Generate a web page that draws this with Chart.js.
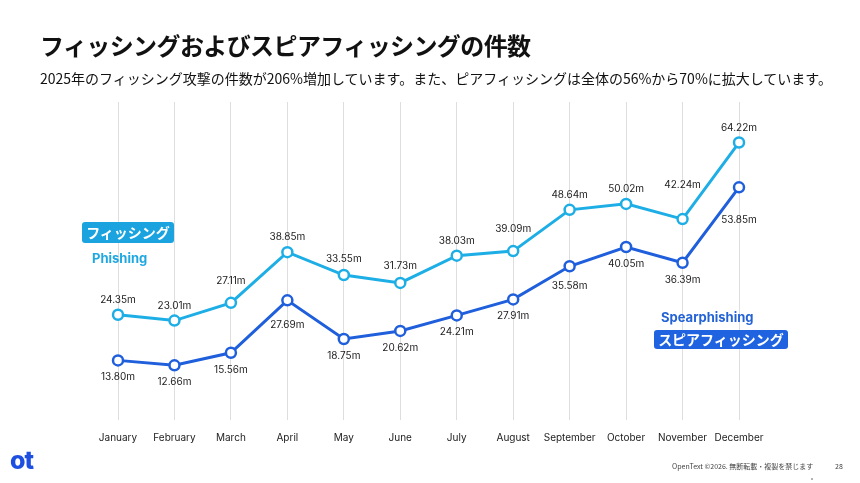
<!DOCTYPE html>
<html>
<head>
<meta charset="utf-8">
<script src="https://cdn.jsdelivr.net/npm/chart.js@4/dist/chart.umd.min.js"></script>
<style>
  html, body { margin: 0; padding: 0; background: #fff; }
  #wrap { position: relative; width: 860px; height: 483px; overflow: hidden; font-family: "Noto Sans CJK JP", "Noto Sans", sans-serif; }
  #wrap canvas { position: absolute; left: 0; top: 0; }
  .txt { position: absolute; white-space: nowrap; }
  #title { left: 40px; top: 27px; font-size: 24px; font-weight: 700; color: #111; letter-spacing: -0.6px; }
  #sub { left: 40px; top: 68px; font-size: 14px; color: #111; }
  .tag { position: absolute; color: #fff; font-weight: 700; font-size: 14px; border-radius: 3px; text-align: center; line-height: 20px; }
  #tagP { left: 82px; top: 222px; width: 92px; height: 21px; background: #1aa3df; }
  #tagS { left: 654px; top: 330px; width: 134px; height: 19px; line-height: 19px; background: #1f63e0; }
  .name { position: absolute; font-family: Inter, "Noto Sans", sans-serif; font-weight: 700; font-size: 13px; }
  #nameP { left: 92px; top: 250px; color: #1ea7e1; }
  #nameS { left: 661px; top: 309px; color: #2463d6; }
  #foot { left: 672px; top: 461px; font-size: 7px; color: #444; }
  #page { left: 835px; top: 461px; font-size: 7px; color: #444; }
  #dot { left: 811px; top: 478px; width: 2px; height: 2px; background: #999; border-radius: 1px; position: absolute; }
  #logo { left: 10px; top: 445px; font-family: Inter, sans-serif; font-size: 25px; font-weight: 800; color: #1d4fe0; letter-spacing: -1px; }
</style>
</head>
<body>
<div id="wrap">
  <canvas id="c" width="860" height="483"></canvas>
  <div class="txt" id="title">フィッシングおよびスピアフィッシングの件数</div>
  <div class="txt" id="sub">2025年のフィッシング攻撃の件数が206%増加しています。また、ピアフィッシングは全体の56%から70%に拡大しています。</div>
  <div class="tag" id="tagP">フィッシング</div>
  <div class="name" id="nameP">Phishing</div>
  <div class="name" id="nameS">Spearphishing</div>
  <div class="tag" id="tagS">スピアフィッシング</div>
  <div class="txt" id="foot">OpenText ©2026. 無断転載・複製を禁じます</div>
  <div class="txt" id="page">28</div>
  <div id="dot"></div>
  <div class="txt" id="logo">ot</div>
</div>
<script>
const months = ["January", "February", "March", "April", "May", "June", "July", "August", "September", "October", "November", "December"];
// plotted positions (the November phishing point sits higher than its label says)
const phishing = [24.35, 23.01, 27.11, 38.85, 33.55, 31.73, 38.03, 39.09, 48.64, 50.02, 46.5, 64.22];
const spearphishing = [13.80, 12.66, 15.56, 27.69, 18.75, 20.62, 24.21, 27.91, 35.58, 40.05, 36.39, 53.85];
// printed value labels
const phishingLabels = ["24.35m", "23.01m", "27.11m", "38.85m", "33.55m", "31.73m", "38.03m", "39.09m", "48.64m", "50.02m", "42.24m", "64.22m"];
const spearphishingLabels = ["13.80m", "12.66m", "15.56m", "27.69m", "18.75m", "20.62m", "24.21m", "27.91m", "35.58m", "40.05m", "36.39m", "53.85m"];

const phishColor = "#1eaee6";
const spearColor = "#1f5fdc";

// value labels: phishing above the point, spearphishing below.
// a label is pushed further out when a neighbouring segment would run through it
const valueLabels = {
    id: "valueLabels",
    afterDatasetsDraw(chart) {
        const ctx = chart.ctx;
        const texts = [phishingLabels, spearphishingLabels];
        ctx.save();
        ctx.font = "10px Inter, 'Noto Sans', sans-serif";
        ctx.fillStyle = "#222";
        ctx.textAlign = "center";
        ctx.textBaseline = "middle";
        chart.data.datasets.forEach((ds, i) => {
            const pts = chart.getDatasetMeta(i).data;
            const above = i === 0;
            pts.forEach((pt, j) => {
                const hw = ctx.measureText(texts[i][j]).width / 2;
                let off = above ? 15 : 17;
                [j - 1, j + 1].forEach(k => {
                    if (k < 0 || k >= pts.length) return;
                    const nb = pts[k];
                    const rise = above ? pt.y - nb.y : nb.y - pt.y;
                    if (rise > 0) {
                        off = Math.max(off, rise * hw / Math.abs(nb.x - pt.x) + 9);
                    }
                });
                ctx.fillText(texts[i][j], pt.x, pt.y + (above ? -off : off));
            });
        });
        ctx.restore();
    }
};

new Chart(document.getElementById("c"), {
    type: "line",
    data: {
        labels: months,
        datasets: [
            { label: "Phishing", data: phishing, borderColor: phishColor, backgroundColor: "#fff",
              borderWidth: 3, pointRadius: 5, pointBorderWidth: 2.5, pointBackgroundColor: "#fff",
              pointBorderColor: phishColor, tension: 0 },
            { label: "Spearphishing", data: spearphishing, borderColor: spearColor, backgroundColor: "#fff",
              borderWidth: 3, pointRadius: 5, pointBorderWidth: 2.5, pointBackgroundColor: "#fff",
              pointBorderColor: spearColor, tension: 0 }
        ]
    },
    options: {
        responsive: false,
        animation: false,
        layout: { padding: { left: 118, right: 121, top: 102, bottom: 0 } },
        plugins: { legend: { display: false }, tooltip: { enabled: false } },
        scales: {
            x: {
                offset: false,
                grid: { color: "#dedede", lineWidth: 1, drawTicks: false },
                border: { display: false },
                ticks: { color: "#222", font: { size: 10, family: "Inter, 'Noto Sans', sans-serif" }, padding: 12, maxRotation: 0, autoSkip: false },
                afterFit: (scale) => { scale.height = 63; }
            },
            y: {
                display: false,
                min: 0,
                max: 73.6
            }
        }
    },
    plugins: [valueLabels]
});
</script>
</body>
</html>
